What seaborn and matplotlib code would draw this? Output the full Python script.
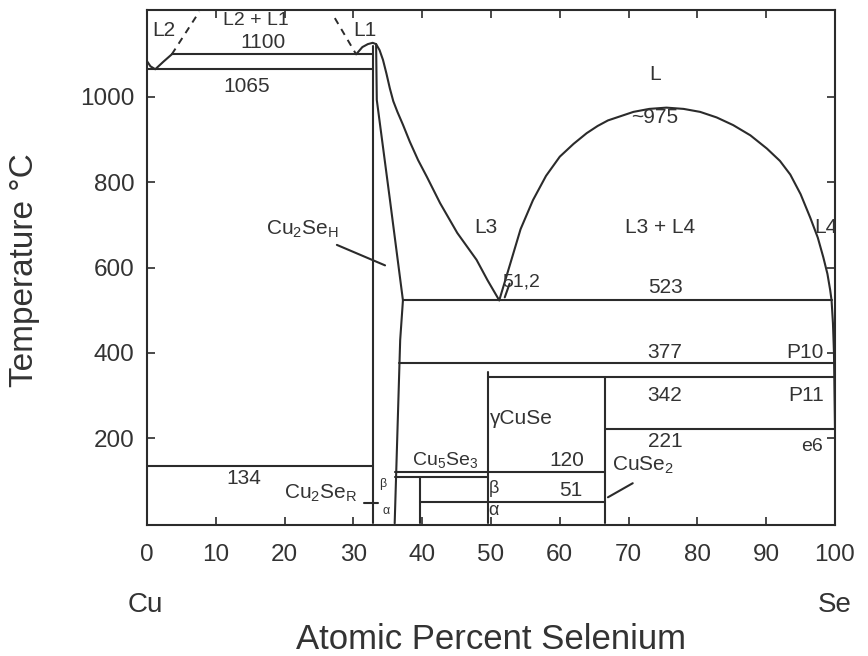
import numpy as np
import pandas as pd
import matplotlib
matplotlib.use("Agg")
import matplotlib.pyplot as plt
import seaborn as sns

# ---------------- Cu–Se phase boundaries (at.% Se, °C) ----------------
# Cu-rich liquidus, eutectic and monotectic
cu_liq_x = [0.0, 0.5, 1.2, 2.4, 3.6]
cu_liq_t = [1084, 1072, 1065, 1083, 1100]

# dashed liquid miscibility gap L2 + L1
gapL_x = [3.6, 7.6]
gapL_t = [1100, 1200]
gapR_x = [27.3, 30.4]
gapR_t = [1185, 1100]

# Cu2Se maximum and liquidus down to the 51.2 / 523 eutectic
liq3_x = [30.4, 31.3, 32.1, 32.8, 33.3, 33.8, 34.3, 34.8, 35.3, 35.8, 36.4,
          37.2, 38.2, 39.4, 40.7, 42.6, 45.1, 47.9, 49.5, 51.2]
liq3_t = [1100, 1117, 1124, 1127, 1124, 1110, 1087, 1055, 1020, 990, 965,
          935, 895, 852, 812, 751, 681, 618, 570, 523]

# L3 + L4 miscibility dome and Se-rich liquidus
dome_x = [51.2, 52.0, 52.8, 54.3, 56.1, 58.0, 60.0, 62.0, 63.9, 65.5, 67.0,
          70.7, 73.0, 75.5, 78.0, 80.4, 82.8, 85.2, 87.7, 90.1, 92.0, 93.5,
          95.0, 96.4, 97.5, 98.3, 98.9, 99.3, 99.5, 99.7, 99.85, 100.0]
dome_t = [523, 566, 609, 690, 758, 815, 860, 890, 915, 932, 945,
          965, 972, 975, 972, 965, 952, 934, 910, 879, 850, 818,
          772, 717, 670, 624, 585, 547, 523, 470, 400, 221]

# Se-rich boundary of the high-temperature Cu2Se phase
cu2se_x = [33.3, 33.4, 35.3, 37.2, 36.8, 36.0]
cu2se_t = [1124, 993, 760, 523, 430, 0]

# invariant (horizontal) lines: temperature, from, to
inv_t = [1100, 1065, 523, 377, 342, 221, 134, 120, 108, 51]
inv_x0 = [3.6, 0.0, 37.2, 36.7, 49.6, 66.6, 0.0, 36.1, 36.1, 39.7]
inv_x1 = [32.8, 32.8, 99.5, 100.0, 100.0, 100.0, 32.8, 66.6, 49.6, 66.6]

# compound lines (vertical): composition, from, to
comp_x = [32.8, 39.7, 49.6, 66.6]
comp_t0 = [0, 0, 0, 0]
comp_t1 = [1120, 108, 354, 342]

# pointer lines for labels
ptr_x0 = [27.6, 67.0, 31.5, 52.0]
ptr_t0 = [653, 61, 47, 530]
ptr_x1 = [34.6, 70.6, 33.6, 52.7]
ptr_t1 = [605, 94, 47, 562]

# field and temperature labels
lab_text = ["L2", "L2 + L1", "1100", "1065", "L1", "L", "~975", "L3",
            "L3 + L4", "L4", "51,2", "523", r"Cu$_2$Se$_\mathrm{H}$", "377",
            "P10", "342", "P11", "γCuSe", "221", "e6",
            r"Cu$_5$Se$_3$", "120", r"CuSe$_2$", "β", "51", "α", "134",
            r"Cu$_2$Se$_\mathrm{R}$", "β", "α"]
lab_x = [2.5, 15.8, 16.9, 14.5, 31.7, 73.8, 73.8, 49.3,
         74.6, 98.7, 54.4, 75.3, 22.6, 75.3,
         95.6, 75.3, 95.8, 54.4, 75.3, 96.7,
         43.3, 61.0, 72.1, 50.4, 61.6, 50.4, 14.0,
         25.3, 34.2, 34.7]
lab_t = [1157, 1180, 1128, 1025, 1157, 1052, 953, 693,
         693, 693, 566, 553, 690, 400,
         400, 300, 300, 245, 193, 179,
         148, 148, 137, 81, 78, 30, 106,
         70, 92, 30]
lab_size = [15, 14, 15, 15, 15, 15, 15, 15,
            15, 15, 14, 15, 15, 15,
            15, 15, 15, 15, 15, 14,
            14, 15, 15, 13, 15, 13, 15,
            15, 9, 9]

INK = "#2b2b2b"
TXT = "#333333"

sns.set_theme(style="ticks")
plt.rcParams["font.family"] = ["Liberation Sans", "DejaVu Sans"]
plt.rcParams["mathtext.fontset"] = "custom"
plt.rcParams["mathtext.rm"] = "Liberation Sans"
plt.rcParams["mathtext.it"] = "Liberation Sans:italic"
plt.rcParams["mathtext.bf"] = "Liberation Sans:bold"

fig = plt.figure(figsize=(8.68, 6.56), dpi=100)
ax = fig.add_axes([147 / 868, 1 - 525 / 656, 688 / 868, 515 / 656])


def frame(xs, ts, name):
    return pd.DataFrame({"x": xs, "T": ts, "seg": name})


solid = [frame(cu_liq_x, cu_liq_t, "cu_liq"),
         frame(liq3_x, liq3_t, "liq3"),
         frame(dome_x, dome_t, "dome"),
         frame(cu2se_x, cu2se_t, "cu2se")]
for i, (t, a, b) in enumerate(zip(inv_t, inv_x0, inv_x1)):
    solid.append(frame([a, b], [t, t], f"inv{i}"))
for i, (c, a, b) in enumerate(zip(comp_x, comp_t0, comp_t1)):
    solid.append(frame([c, c], [a, b], f"comp{i}"))
for i in range(len(ptr_x0)):
    solid.append(frame([ptr_x0[i], ptr_x1[i]], [ptr_t0[i], ptr_t1[i]], f"ptr{i}"))
solid = pd.concat(solid, ignore_index=True)

dashed = pd.concat([frame(gapL_x, gapL_t, "gapL"),
                    frame(gapR_x, gapR_t, "gapR")], ignore_index=True)

sns.lineplot(data=solid, x="x", y="T", units="seg", estimator=None, sort=False,
             color=INK, linewidth=1.5, ax=ax, legend=False)
sns.lineplot(data=dashed, x="x", y="T", units="seg", estimator=None, sort=False,
             color=INK, linewidth=1.4, linestyle=(0, (3.5, 3)), ax=ax, legend=False)

for s, x, t, fs in zip(lab_text, lab_x, lab_t, lab_size):
    ax.text(x, t, s, ha="center", va="center", fontsize=fs, color=TXT,
            clip_on=True)

ax.set_xlim(0, 100)
ax.set_ylim(-4, 1204)
ax.set_xticks(np.arange(0, 101, 10))
ax.set_yticks([200, 400, 600, 800, 1000])
ax.tick_params(axis="both", which="both", direction="in", length=6, width=1.2,
               top=True, right=True, labelsize=17.5, colors=INK, labelcolor=TXT)
ax.tick_params(axis="x", pad=14)
ax.tick_params(axis="y", pad=9)
for sp in ax.spines.values():
    sp.set_visible(True)
    sp.set_linewidth(1.5)
    sp.set_color(INK)

ax.set_xlabel("Atomic Percent Selenium", fontsize=25, color=TXT)
ax.set_ylabel("Temperature °C", fontsize=24, color=TXT)
ax.xaxis.set_label_coords(0.5, -0.19)
ax.yaxis.set_label_coords(-0.155, 0.495)

fig.text(145 / 868, 1 - 605 / 656, "Cu", ha="center", va="center", fontsize=20,
         color=TXT)
fig.text(835 / 868, 1 - 605 / 656, "Se", ha="center", va="center", fontsize=20,
         color=TXT)

fig.savefig("out.png", dpi=100)
